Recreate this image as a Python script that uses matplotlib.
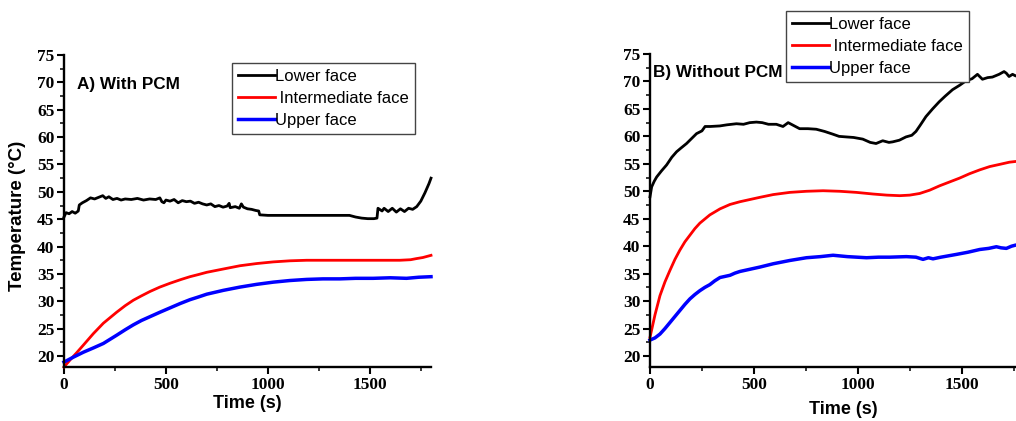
import matplotlib
matplotlib.use("Agg")
import matplotlib.pyplot as plt
from matplotlib.ticker import MultipleLocator

# ---------------- data ----------------
# Panel A (with PCM)
a_lower_t = [0, 10, 25, 40, 55, 70, 75, 90, 110, 130, 150, 170, 190, 205, 220, 240, 260, 280, 300, 330,
             360, 390, 420, 450, 470, 480, 490, 500, 520, 540, 560, 580, 600, 620, 640, 660, 680, 700,
             720, 740, 760, 780, 800, 810, 815, 840, 860, 870, 880, 900, 920, 940, 955, 960, 1000, 1100,
             1200, 1300, 1400, 1430, 1460, 1490, 1520, 1535, 1540, 1560, 1570, 1590, 1610, 1630, 1650,
             1670, 1690, 1710, 1730, 1750, 1770, 1790, 1800]
a_lower_T = [45.4, 46.2, 46.0, 46.4, 46.1, 46.5, 47.6, 48.0, 48.4, 48.9, 48.7, 49.0, 49.3, 48.8, 49.1, 48.6,
             48.8, 48.5, 48.7, 48.6, 48.8, 48.5, 48.7, 48.6, 48.9, 48.2, 48.0, 48.5, 48.3, 48.6, 48.0, 48.4,
             48.2, 48.3, 47.9, 48.1, 47.8, 47.6, 47.8, 47.3, 47.5, 47.2, 47.4, 47.9, 47.1, 47.3, 47.0, 47.8,
             47.2, 46.9, 46.8, 46.6, 46.5, 45.8, 45.7, 45.7, 45.7, 45.7, 45.7, 45.4, 45.2, 45.1, 45.1, 45.2,
             47.0, 46.5, 47.0, 46.4, 47.0, 46.3, 46.9, 46.4, 47.0, 46.8, 47.3, 48.3, 49.8, 51.5, 52.5]

a_mid_t = [0, 30, 62, 95, 144, 193, 258, 300, 340, 380, 422, 470, 520, 575, 618, 660, 700, 781, 863, 945,
           1026, 1108, 1190, 1353, 1516, 1647, 1700, 1728, 1760, 1800]
a_mid_T = [18.0, 19.3, 20.6, 22.0, 24.1, 26.0, 28.0, 29.2, 30.2, 31.0, 31.8, 32.6, 33.3, 34.0, 34.5, 34.9,
           35.3, 35.9, 36.5, 36.9, 37.2, 37.4, 37.5, 37.5, 37.5, 37.5, 37.6, 37.8, 38.0, 38.4]

a_up_t = [0, 46, 95, 145, 193, 258, 300, 340, 380, 422, 470, 520, 570, 618, 660, 700, 781, 863, 945, 1026,
          1108, 1190, 1270, 1353, 1430, 1516, 1600, 1680, 1740, 1800]
a_up_T = [18.9, 19.8, 20.7, 21.5, 22.3, 23.8, 24.8, 25.7, 26.5, 27.2, 28.0, 28.8, 29.6, 30.3, 30.8, 31.3,
          32.0, 32.6, 33.1, 33.5, 33.8, 34.0, 34.1, 34.1, 34.2, 34.2, 34.3, 34.2, 34.4, 34.5]

# Panel B (without PCM)
b_lower_t = [0, 8, 20, 32, 55, 80, 105, 128, 150, 176, 200, 224, 250, 265, 290, 336, 370, 416, 450, 480,
             512, 540, 570, 608, 640, 665, 690, 720, 760, 800, 840, 880, 910, 944, 980, 1024, 1060, 1088,
             1120, 1150, 1168, 1200, 1232, 1260, 1280, 1300, 1328, 1360, 1392, 1420, 1456, 1490, 1520,
             1550, 1576, 1600, 1625, 1648, 1680, 1704, 1715, 1728, 1745, 1760, 1800]
b_lower_T = [49.0, 50.8, 51.8, 52.6, 53.7, 54.8, 56.2, 57.2, 57.9, 58.7, 59.6, 60.5, 61.0, 61.8, 61.8, 61.9,
             62.1, 62.3, 62.2, 62.5, 62.6, 62.5, 62.2, 62.2, 61.8, 62.5, 62.0, 61.4, 61.4, 61.3, 60.9, 60.4,
             60.0, 59.9, 59.8, 59.5, 58.9, 58.7, 59.2, 58.9, 59.0, 59.3, 59.9, 60.2, 60.9, 62.0, 63.6, 65.0,
             66.3, 67.3, 68.5, 69.3, 70.1, 70.5, 71.3, 70.4, 70.7, 70.8, 71.3, 71.8, 71.5, 70.9, 71.3, 71.0,
             71.3]

b_mid_t = [0, 24, 48, 72, 96, 120, 144, 168, 192, 216, 240, 288, 337, 385, 433, 481, 529, 593, 673, 753,
           833, 913, 993, 1074, 1140, 1202, 1250, 1298, 1346, 1394, 1442, 1490, 1538, 1587, 1635, 1683,
           1730, 1800]
b_mid_T = [23.4, 27.5, 31.0, 33.5, 35.6, 37.6, 39.3, 40.8, 42.0, 43.2, 44.2, 45.7, 46.8, 47.6, 48.1, 48.5,
           48.9, 49.4, 49.8, 50.0, 50.1, 50.0, 49.8, 49.5, 49.3, 49.2, 49.3, 49.6, 50.2, 51.0, 51.7, 52.4,
           53.2, 53.9, 54.5, 54.9, 55.3, 55.6]

b_up_t = [0, 24, 48, 72, 96, 120, 144, 168, 192, 216, 240, 264, 288, 312, 337, 361, 385, 409, 433, 481,
          529, 593, 673, 753, 820, 881, 950, 1042, 1100, 1154, 1234, 1280, 1314, 1340, 1362, 1400, 1474,
          1530, 1587, 1630, 1667, 1690, 1715, 1740, 1760, 1800]
b_up_T = [22.9, 23.3, 24.0, 25.0, 26.1, 27.2, 28.3, 29.4, 30.4, 31.2, 31.9, 32.5, 33.0, 33.7, 34.3, 34.5,
          34.7, 35.1, 35.4, 35.8, 36.2, 36.8, 37.4, 37.9, 38.1, 38.35, 38.1, 37.9, 38.0, 38.0, 38.1, 38.0,
          37.6, 37.9, 37.7, 38.0, 38.5, 38.9, 39.4, 39.6, 39.9, 39.7, 39.6, 40.0, 40.2, 40.3]

labels = ["Lower face", " Intermediate face", "Upper face"]
colors = ["black", "#ff0000", "#0000ff"]
panel_titles = ["A) With PCM", "B) Without PCM"]
xticks = [0, 500, 1000, 1500]
yticks = [20, 25, 30, 35, 40, 45, 50, 55, 60, 65, 70, 75]

# ---------------- figure ----------------
W, H = 1016, 421
fig = plt.figure(figsize=(W / 100, H / 100), dpi=100)

def fx(px):
    return px / W

def fy(py):
    return 1 - py / H

axA = fig.add_axes([fx(64), fy(367), fx(431 - 64), fy(55) - fy(367)])
axB = fig.add_axes([fx(650), fy(367), fx(374), fy(54) - fy(367)])

def style(ax):
    ax.set_xlim(0, 1800)
    ax.set_ylim(18, 75)
    ax.set_xticks(xticks)
    ax.set_yticks(yticks)
    ax.xaxis.set_minor_locator(MultipleLocator(250))
    ax.yaxis.set_minor_locator(MultipleLocator(2.5))
    for s in ["top", "right"]:
        ax.spines[s].set_visible(False)
    for s in ["left", "bottom"]:
        ax.spines[s].set_linewidth(1.7)
    ax.tick_params(which="major", direction="out", length=5, width=1.5, pad=2)
    ax.tick_params(which="minor", direction="out", length=3, width=1.1)
    for lab in ax.get_xticklabels() + ax.get_yticklabels():
        lab.set_fontfamily("Liberation Serif")
        lab.set_fontweight("bold")
        lab.set_fontsize(12.5)

series = [
    (axA, [(a_lower_t, a_lower_T), (a_mid_t, a_mid_T), (a_up_t, a_up_T)]),
    (axB, [(b_lower_t, b_lower_T), (b_mid_t, b_mid_T), (b_up_t, b_up_T)]),
]
widths = [2.0, 2.0, 2.5]
for ax, data in series:
    for (t, T), c, lab, w in zip(data, colors, labels, widths):
        ax.plot(t, T, color=c, lw=w, label=lab, clip_on=False)
    style(ax)

# legends
leg_kw = dict(fancybox=False, edgecolor="#444444", framealpha=1, borderaxespad=0,
              prop=dict(family="Liberation Sans", size=12), handlelength=2.2, handletextpad=0.05,
              labelspacing=0.42, borderpad=0.35)
legA = axA.legend(loc="upper left", bbox_to_anchor=(fx(232), fy(63)), bbox_transform=fig.transFigure,
                  **leg_kw)
legA.get_frame().set_linewidth(1.0)
legB = axB.legend(loc="upper left", bbox_to_anchor=(fx(786), fy(11)), bbox_transform=fig.transFigure,
                  **leg_kw)
legB.get_frame().set_linewidth(1.0)

# panel titles
fig.text(fx(77), fy(85), panel_titles[0], family="Liberation Sans", weight="bold", size=12.3,
         ha="left", va="center")
fig.text(fx(653), fy(73), panel_titles[1], family="Liberation Sans", weight="bold", size=12.3,
         ha="left", va="center")

# axis labels
fig.text(fx(18), fy(216), "Temperature (°C)", family="Liberation Sans", weight="bold", size=13.5,
         rotation=90, ha="center", va="center")
fig.text(fx(247), fy(404), "Time (s)", family="Liberation Sans", weight="bold", size=13,
         ha="center", va="center")
fig.text(fx(843), fy(410), "Time (s)", family="Liberation Sans", weight="bold", size=13,
         ha="center", va="center")

fig.savefig("out.png", dpi=100)
